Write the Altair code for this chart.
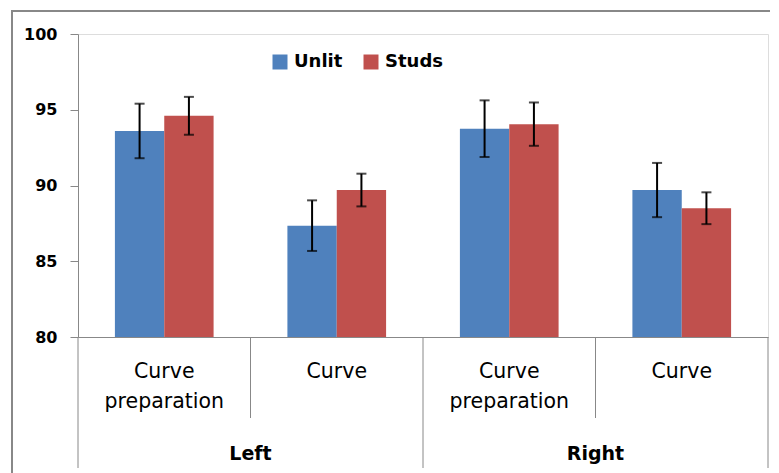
import altair as alt
import pandas as pd

groups = ["Left", "Left", "Right", "Right"]
subcats = ["Curve\npreparation", "Curve", "Curve\npreparation", "Curve"]
series = ["Unlit", "Studs"]
colors = ["#4F81BD", "#C0504D"]
unlit_mean = [93.6, 87.35, 93.75, 89.7]
unlit_err = [1.8, 1.67, 1.87, 1.79]
studs_mean = [94.6, 89.7, 94.05, 88.5]
studs_err = [1.25, 1.08, 1.43, 1.05]
y_ticks = [80, 85, 90, 95, 100]

FONT = "DejaVu Sans"
GRAY = "#888888"

keys = [f"{g}|{s}" for g, s in zip(groups, subcats)]

rows = []
for i, k in enumerate(keys):
    for s, m, e in (("Unlit", unlit_mean[i], unlit_err[i]), ("Studs", studs_mean[i], studs_err[i])):
        rows.append({"key": k, "series": s, "mean": m, "lo": m - e, "hi": m + e})
df = pd.DataFrame(rows)

cat_df = pd.DataFrame({"key": keys, "label": subcats})
inner_df = pd.DataFrame({"key": [keys[1], keys[3]]})
outer_start_df = pd.DataFrame({"key": [keys[0], keys[2]]})
outer_end_df = pd.DataFrame({"key": [keys[3]]})
grp_df = pd.DataFrame({"key": [keys[0], keys[2]], "label": [groups[0], groups[2]]})

xscale = alt.Scale(domain=keys, paddingInner=0, paddingOuter=0)
xaxis = alt.Axis(labels=False, ticks=False, title=None, grid=False,
                 domainColor=GRAY, domainWidth=1)
x_enc = alt.X("key:N", sort=keys, scale=xscale, axis=xaxis)
xoff = alt.XOffset("series:N", sort=series,
                   scale=alt.Scale(domain=series, paddingOuter=0.748, paddingInner=0))
yscale = alt.Scale(domain=[80, 100], zero=False, nice=False)

base = alt.Chart(df)

bars = base.mark_bar().encode(
    x=x_enc,
    xOffset=xoff,
    y=alt.Y("mean:Q", scale=yscale,
            axis=alt.Axis(values=y_ticks, tickSize=8, labelPadding=13, grid=False, title=None,
                          domainColor=GRAY, tickColor=GRAY, labelFont=FONT, labelFontSize=16,
                          labelFontWeight="bold", labelColor="black")),
    y2=alt.datum(80),
    color=alt.Color("series:N", sort=series,
                    scale=alt.Scale(domain=series, range=colors),
                    legend=alt.Legend(orient="none", legendX=193, legendY=19,
                                      direction="horizontal", title=None,
                                      symbolType="square", symbolSize=225,
                                      symbolStrokeWidth=0, labelFont=FONT,
                                      labelFontSize=18, labelFontWeight="bold",
                                      labelColor="black", labelOffset=5,
                                      columnPadding=19, padding=0)),
)

err = base.mark_rule(color="black", strokeWidth=2).encode(
    x=x_enc, xOffset=xoff, y="lo:Q", y2="hi:Q")
cap_lo = base.mark_tick(color="black", thickness=2, size=10).encode(
    x=x_enc, xOffset=xoff, y="lo:Q")
cap_hi = base.mark_tick(color="black", thickness=2, size=10).encode(
    x=x_enc, xOffset=xoff, y="hi:Q")

cat_text = alt.Chart(cat_df).mark_text(
    lineBreak="\n", baseline="top", font=FONT, fontSize=20.5, color="black", lineHeight=30
).encode(x=alt.X("key:N", sort=keys, scale=xscale, axis=xaxis), y=alt.value(328), text="label:N")

inner_div = alt.Chart(inner_df).mark_rule(color=GRAY, strokeWidth=1).encode(
    x=alt.X("key:N", sort=keys, scale=xscale, axis=xaxis, bandPosition=0),
    y=alt.value(303), y2=alt.value(384))
outer_div1 = alt.Chart(outer_start_df).mark_rule(color=GRAY, strokeWidth=1).encode(
    x=alt.X("key:N", sort=keys, scale=xscale, axis=xaxis, bandPosition=0),
    y=alt.value(303), y2=alt.value(434))
outer_div2 = alt.Chart(outer_end_df).mark_rule(color=GRAY, strokeWidth=1).encode(
    x=alt.X("key:N", sort=keys, scale=xscale, axis=xaxis, bandPosition=1),
    y=alt.value(303), y2=alt.value(434))

grp_text = alt.Chart(grp_df).mark_text(
    baseline="middle", font=FONT, fontSize=19, fontWeight="bold", color="black"
).encode(x=alt.X("key:N", sort=keys, scale=xscale, axis=xaxis, bandPosition=1),
         y=alt.value(420), text="label:N")

one = pd.DataFrame({"a": [0]})
frame_top = alt.Chart(one).mark_rule(color=GRAY, strokeWidth=2).encode(
    x=alt.value(-66), x2=alt.value(900), y=alt.value(-23))
frame_left = alt.Chart(one).mark_rule(color=GRAY, strokeWidth=2).encode(
    x=alt.value(-66), y=alt.value(-24), y2=alt.value(600))

chart = alt.layer(
    frame_top, frame_left, bars, err, cap_lo, cap_hi, cat_text,
    inner_div, outer_div1, outer_div2, grp_text
).properties(
    width=690, height=303,
    autosize=alt.AutoSizeParams(type="none"),
    padding={"left": 70, "top": 26, "right": 2, "bottom": 145},
).configure_view(stroke="transparent", strokeWidth=0).configure(background="white")

chart.save("out.html", embed_options={"renderer": "svg", "actions": False})
